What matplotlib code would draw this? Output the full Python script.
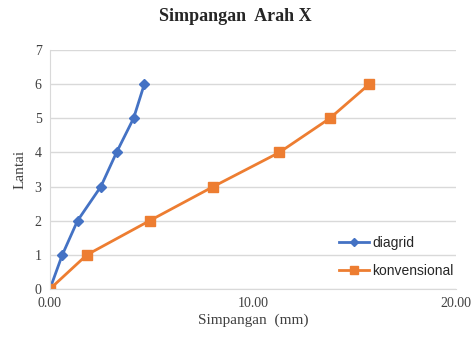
import matplotlib
matplotlib.use("Agg")
import matplotlib.pyplot as plt

lantai = [0, 1, 2, 3, 4, 5, 6]
diagrid = [0.0, 0.61, 1.36, 2.51, 3.28, 4.12, 4.65]
konvensional = [0.0, 1.82, 4.91, 8.05, 11.3, 13.79, 15.73]

fig = plt.figure(figsize=(4.71, 3.38), dpi=100)
ax = fig.add_axes([0.106, 0.145, 0.862, 0.707])

ax.plot(diagrid, lantai, color='#4472C4', marker='D', markersize=5, lw=2, label='diagrid')
ax.plot(konvensional, lantai, color='#ED7D31', marker='s', markersize=7, lw=2, label='konvensional')

ax.set_xlim(0, 20)
ax.set_ylim(0, 7)
ax.set_xticks([0, 10, 20])
ax.set_xticklabels(['0.00', '10.00', '20.00'])
ax.set_yticks(range(8))
ax.grid(axis='y', color='#D9D9D9', lw=1)
ax.set_axisbelow(True)
for s in ['top', 'right']:
    ax.spines[s].set_visible(False)
ax.spines['left'].set_color('#D9D9D9')
ax.spines['bottom'].set_color('#D9D9D9')
ax.tick_params(length=0, labelsize=10, colors='#404040', pad=6)
for lbl in ax.get_xticklabels() + ax.get_yticklabels():
    lbl.set_family('Liberation Serif')

ax.set_xlabel('Simpangan  (mm)', family='Liberation Serif', fontsize=11, color='#404040', labelpad=2)
ax.set_ylabel('Lantai', family='Liberation Serif', fontsize=11, color='#404040', labelpad=6)
fig.suptitle('Simpangan  Arah X', family='Liberation Serif', fontsize=13, fontweight='bold',
             color='#262626', y=0.975)

leg = ax.legend(loc='lower right', bbox_to_anchor=(1.025, -0.005), frameon=False,
                prop={'family': 'Liberation Sans', 'size': 10}, handlelength=2.2, handletextpad=0.2,
                labelspacing=1.0, markerscale=0.75)
for t in leg.get_texts():
    t.set_color('#262626')

fig.savefig('out.png', dpi=100)
